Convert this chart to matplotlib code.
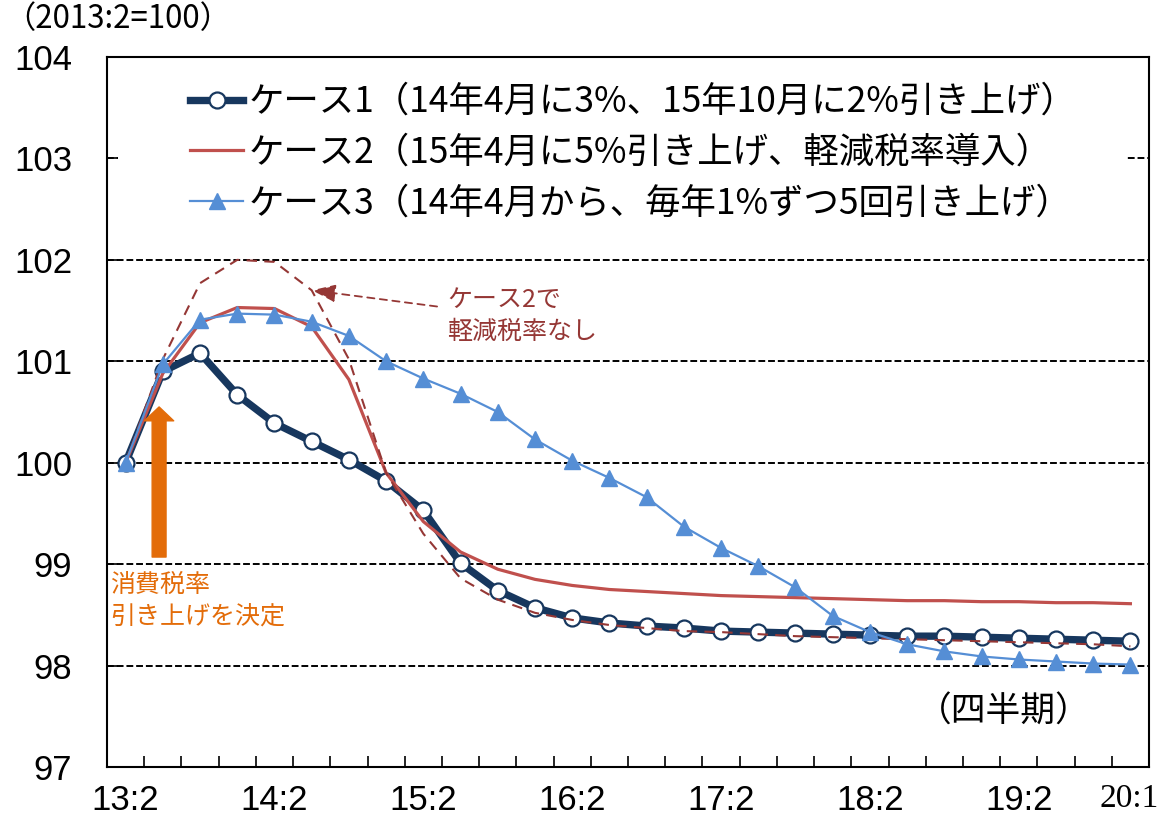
import numpy as np
import matplotlib
matplotlib.use("Agg")
from matplotlib import pyplot as plt
from matplotlib.patches import Rectangle

plt.rcParams['font.family'] = ['Noto Sans CJK JP', 'DejaVu Sans']

## DATA (2013:2 = 100, quarterly 13:2 .. 20:1)
quarters = ['13:2', '13:3', '13:4', '14:1', '14:2', '14:3', '14:4', '15:1', '15:2', '15:3',
            '15:4', '16:1', '16:2', '16:3', '16:4', '17:1', '17:2', '17:3', '17:4', '18:1',
            '18:2', '18:3', '18:4', '19:1', '19:2', '19:3', '19:4', '20:1']
shown_labels = ['13:2', '14:2', '15:2', '16:2', '17:2', '18:2', '19:2', '20:1']

case1 = [100.00, 100.90, 101.08, 100.67, 100.39, 100.21, 100.03, 99.82, 99.53, 99.01,
         98.74, 98.57, 98.47, 98.42, 98.39, 98.37, 98.34, 98.33, 98.32, 98.31,
         98.30, 98.29, 98.29, 98.28, 98.27, 98.26, 98.25, 98.24]
case2 = [100.00, 100.88, 101.38, 101.53, 101.52, 101.34, 100.82, 99.90, 99.42, 99.12,
         98.95, 98.85, 98.79, 98.75, 98.73, 98.71, 98.69, 98.68, 98.67, 98.66,
         98.65, 98.64, 98.64, 98.63, 98.63, 98.62, 98.62, 98.61]
case2_no_reduced = [100.00, 101.02, 101.77, 102.00, 101.98, 101.70, 101.02, 99.90, 99.30, 98.86,
                    98.65, 98.52, 98.45, 98.40, 98.37, 98.34, 98.33, 98.31, 98.29, 98.28,
                    98.27, 98.26, 98.25, 98.24, 98.23, 98.22, 98.21, 98.19]
case3 = [100.00, 100.97, 101.41, 101.47, 101.46, 101.39, 101.25, 101.00, 100.83, 100.68,
         100.50, 100.23, 100.02, 99.85, 99.66, 99.37, 99.16, 98.98, 98.77, 98.49,
         98.33, 98.21, 98.14, 98.09, 98.06, 98.04, 98.02, 98.01]

label1 = 'ケース1（14年4月に3%、15年10月に2%引き上げ）'
label2 = 'ケース2（15年4月に5%引き上げ、軽減税率導入）'
label3 = 'ケース3（14年4月から、毎年1%ずつ5回引き上げ）'

navy = '#17375E'
red = '#C0504D'
darkred = '#953735'
blue = '#558ED5'
orange = '#E36C09'

x = np.arange(len(quarters))

fig = plt.figure(figsize=(11.6, 8.27), dpi=100)
ax = fig.add_axes([107/1160, 1 - 767/827, 1042/1160, 710/827])

# lines
l1, = ax.plot(x, case1, color=navy, lw=5.3, marker='o', ms=11.5, mfc='white',
              mec=navy, mew=1.6, label=label1)
l2, = ax.plot(x, case2, color=red, lw=2.3, label=label2)
ax.plot(x, case2_no_reduced, color=darkred, lw=1.5, ls=(0, (5, 3.5)))
l3, = ax.plot(x, case3, color=blue, lw=1.6, marker='^', ms=11, mfc=blue, mec=blue,
              label=label3)

# axes
ax.set_xlim(-0.5, len(quarters) - 0.5)
ax.set_ylim(97, 104)
ax.set_yticks(np.arange(97, 105))
ax.set_yticklabels([str(v) for v in range(97, 105)], fontfamily='Liberation Sans', fontsize=25)
ax.set_xticks(x[:-1] + 0.5)
ax.set_xticklabels([])
pos = [quarters.index(q) for q in shown_labels]
ax.set_xticks(pos, minor=True)
ax.set_xticklabels(shown_labels, minor=True, fontfamily='Liberation Sans', fontsize=25)
ax.get_xticklabels(minor=True)[-1].set_fontfamily('Liberation Serif')
ax.get_xticklabels(minor=True)[-1].set_fontsize(24)
ax.get_xticklabels(minor=True)[-1].set_horizontalalignment('right')
ax.tick_params(axis='x', which='major', direction='in', length=8, width=1.2)
ax.tick_params(axis='x', which='minor', length=0, pad=12)
ax.tick_params(axis='y', direction='in', length=8, width=1.2, pad=25)
for s in ax.spines.values():
    s.set_linewidth(1.5)
# nudge the right-aligned last label so its right edge sits near the figure edge
import matplotlib.transforms as mtransforms
last = ax.get_xticklabels(minor=True)[-1]
last.set_transform(last.get_transform() + mtransforms.ScaledTranslation(0.28, 0, fig.dpi_scale_trans))

ax.set_axisbelow(True)
ax.yaxis.grid(True, color='black', lw=1.4, ls=(0, (3.5, 1.5)))
ax.add_patch(Rectangle((0.011, 0.77), 0.968, 0.2, transform=ax.transAxes,
                       facecolor='white', edgecolor='none', zorder=1))

ax.legend(handles=[l1, l2, l3], loc='upper left', bbox_to_anchor=(0.08, 0.962),
          frameon=False, fontsize=25.5, borderaxespad=0, borderpad=0,
          handlelength=1.5, handletextpad=0.15, labelspacing=0.42)

# annotations
ax.annotate('', xy=(0.9, 100.55), xytext=(0.9, 99.07),
            arrowprops=dict(arrowstyle='simple,head_width=2.1,head_length=1.0,tail_width=1.0',
                            color=orange, mutation_scale=10, shrinkA=0, shrinkB=0))
ax.text(-0.42, 98.635, '消費税率\n引き上げを決定', color=orange, fontsize=18,
        ha='left', va='center', linespacing=1.3)

ax.annotate('', xy=(5.01, 101.70), xytext=(8.37, 101.54),
            arrowprops=dict(arrowstyle='-|>,head_length=1.2,head_width=0.45',
                            color=darkred, lw=1.3, ls=(0, (4, 3)), mutation_scale=12,
                            shrinkA=0, shrinkB=0))
ax.text(8.64, 101.445, 'ケース2で\n軽減税率なし', color=darkred, fontsize=18,
        ha='left', va='center', linespacing=1.3)

ax.text(23.6, 97.54, '（四半期）', fontsize=25, ha='center', va='center')
fig.text(0.004, 0.977, '（2013:2=100）', fontsize=22.5, ha='left', va='center')

plt.savefig('out.png', dpi=100)
